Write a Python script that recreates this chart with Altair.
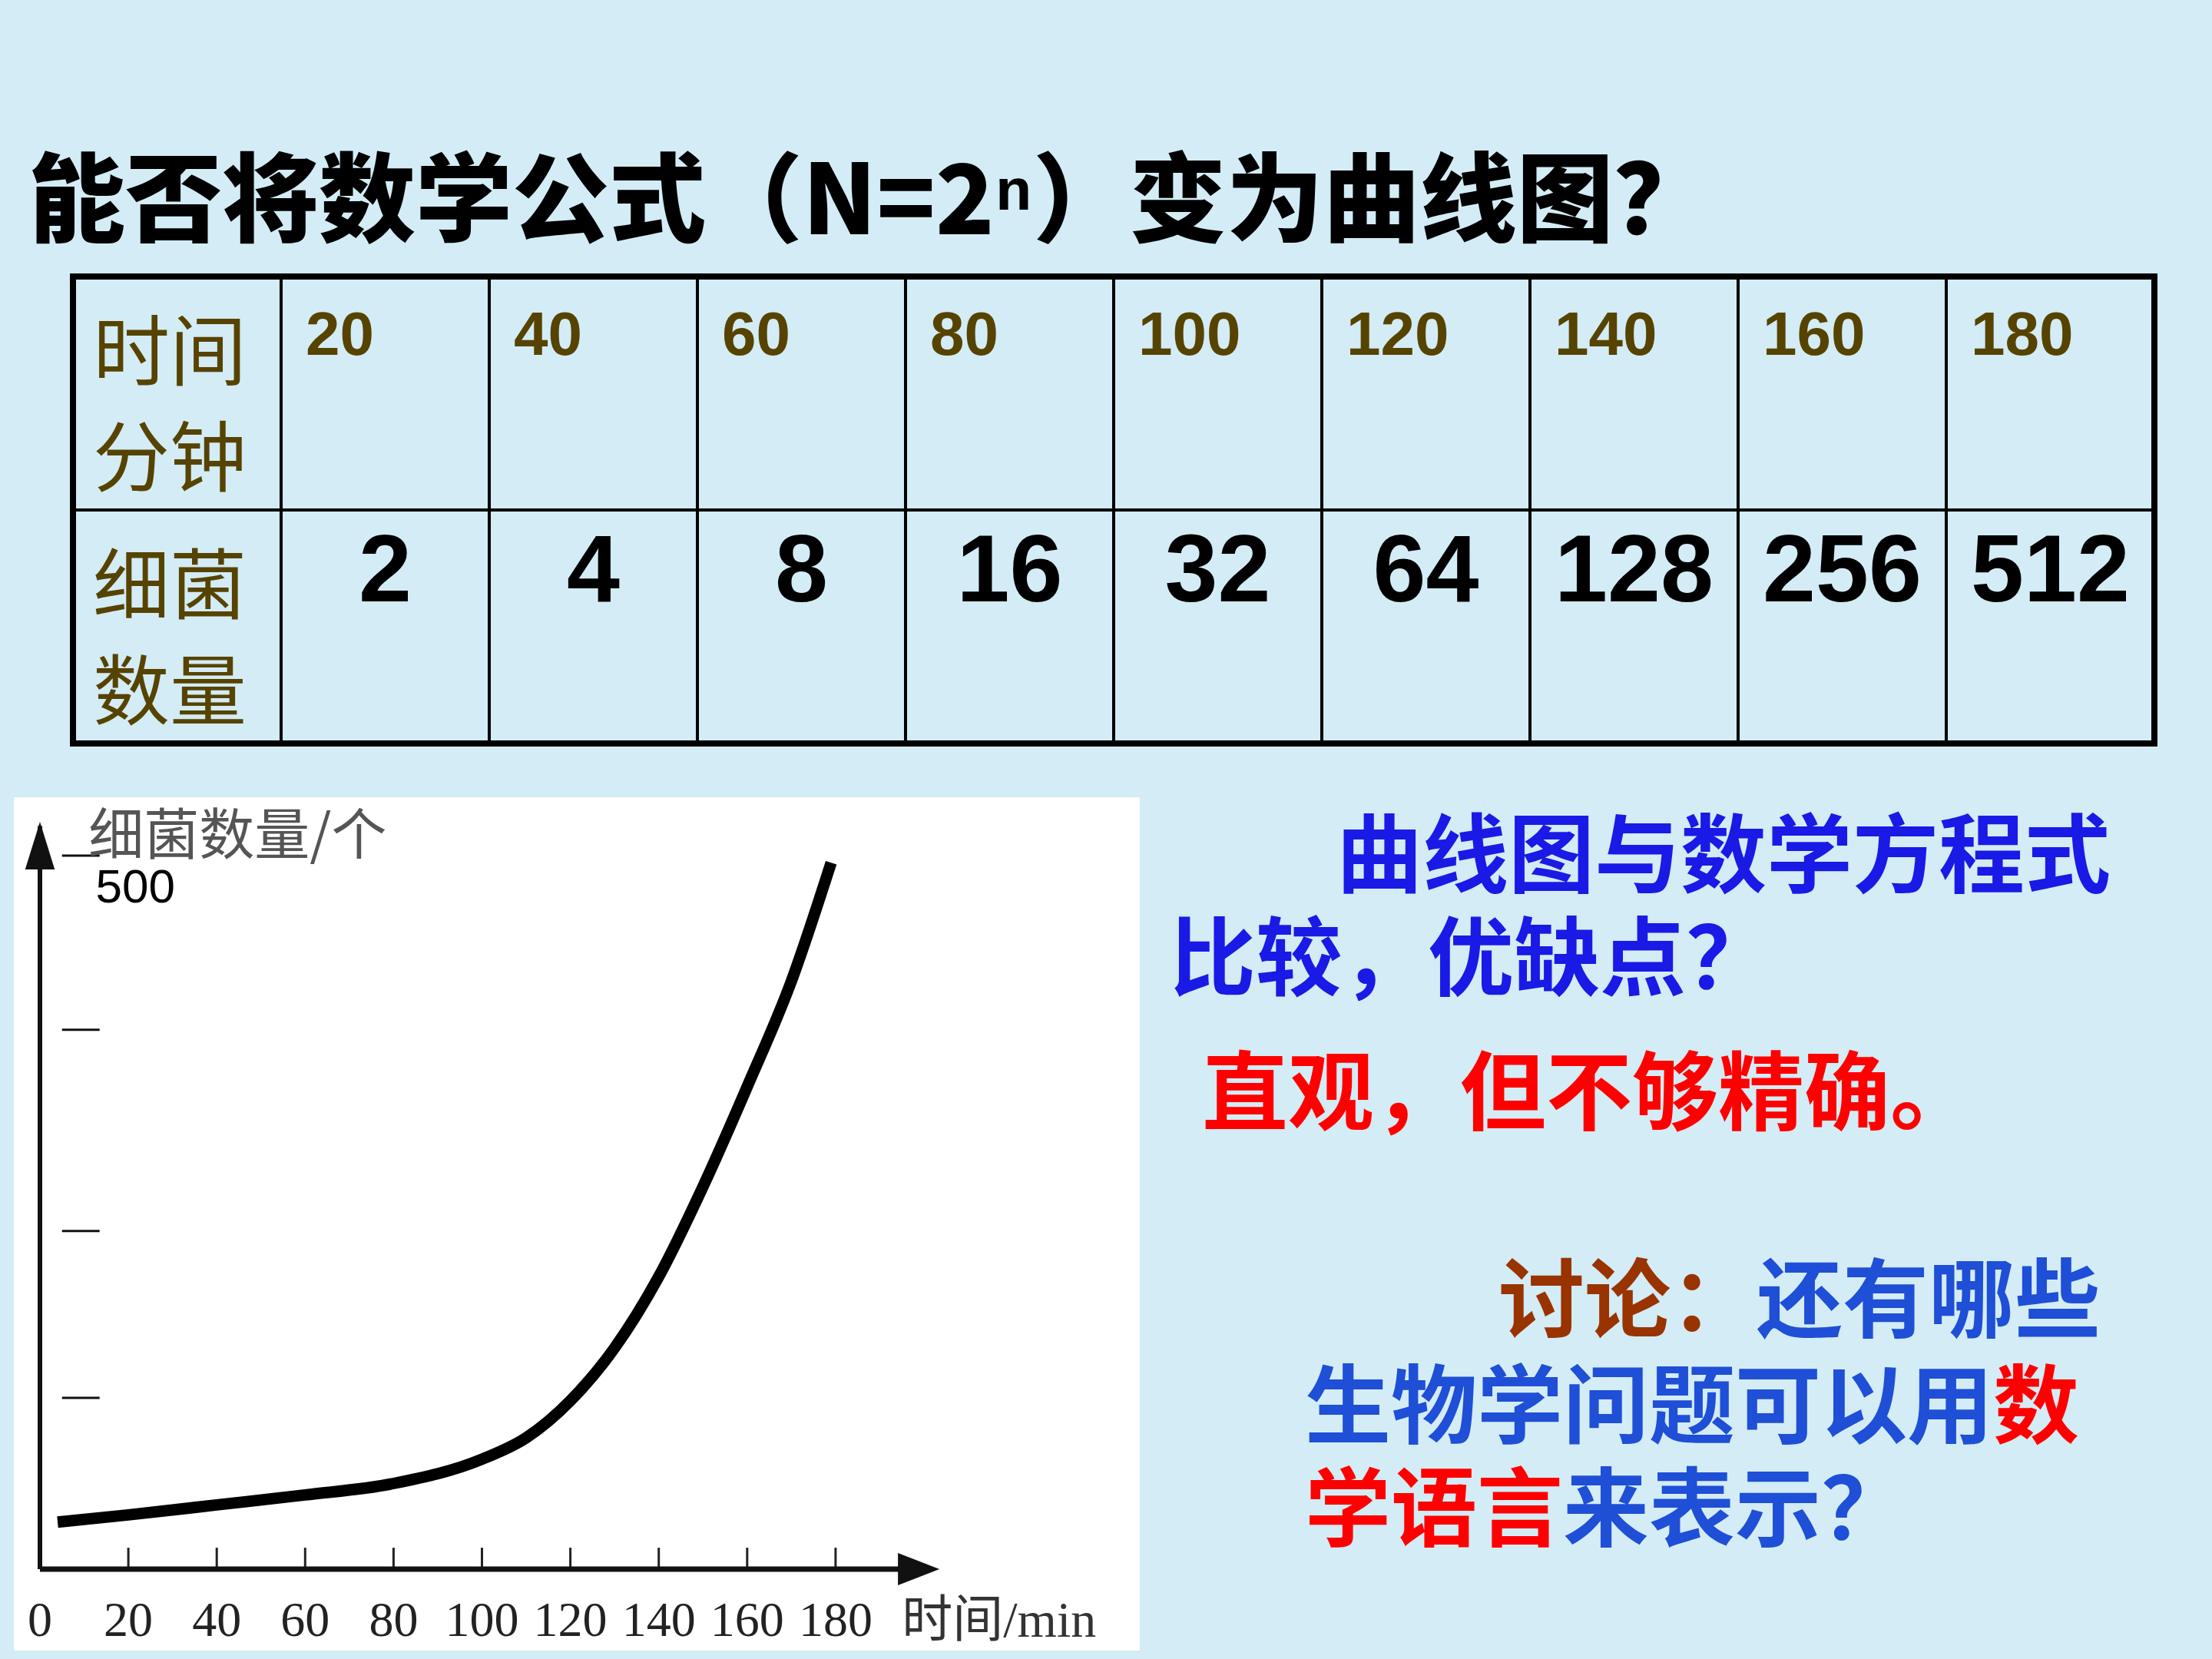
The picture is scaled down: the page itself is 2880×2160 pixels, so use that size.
import altair as alt
import pandas as pd

# ---------------- data ----------------
title_text = "能否将数学公式（N=2ⁿ）变为曲线图？"
row_headers = [["时间", "分钟"], ["细菌", "数量"]]
time_minutes = [20, 40, 60, 80, 100, 120, 140, 160, 180]
bacteria_count = [2, 4, 8, 16, 32, 64, 128, 256, 512]

# curve (time in min, count)
curve_time = [4, 20, 40, 60, 80, 100, 110, 120, 130, 140, 150, 160, 170, 179]
curve_count = [33, 38, 45, 52, 60, 77, 92, 118, 155, 205, 268, 338, 412, 495]

x_tick_values = [0, 20, 40, 60, 80, 100, 120, 140, 160, 180]
y_dash_values = [120, 237, 378, 500]
y_label_value = 500
x_title = "时间/min"
y_title = "细菌数量/个"

text_lines = [
    [("曲线图与数学方程式", "blue1")],
    [("比较，优缺点？", "blue1")],
    [("直观，但不够精确。", "red")],
    [("讨论：", "brown"), ("还有哪些", "blue2")],
    [("生物学问题可以用", "blue2"), ("数", "red")],
    [("学语言", "red"), ("来表示？", "blue2")],
]

# ---------------- styles / layout ----------------
CJK = "Noto Sans CJK SC, Liberation Sans, DejaVu Sans, sans-serif"
SANS = "Liberation Sans, Arial, sans-serif"
NARROW = "Liberation Sans Narrow, Arial Narrow, Liberation Sans, sans-serif"
SERIF = "Liberation Serif, Noto Sans CJK SC, serif"
BG = "#D3ECF6"
OLIVE = "#574300"
COLORS = {"blue1": "#1A1AE6", "blue2": "#1F4FD6", "red": "#FF0000", "brown": "#993300"}

one = pd.DataFrame({"k": [0]})

# ---------- top panel: title + table ----------
TW, TH = 2862, 968
T_LEFT, COL_W = 77, 271
T_TOP, ROW_H = 360, 304
tx = alt.Scale(domain=[-T_LEFT / COL_W, (TW - T_LEFT) / COL_W], nice=False, zero=False)
ty = alt.Scale(domain=[-T_TOP / ROW_H, (TH - T_TOP) / ROW_H], nice=False, zero=False, reverse=True)

ncols = len(time_minutes) + 1
cells = pd.DataFrame(
    [{"c": c, "c2": c + 1, "r": r, "r2": r + 1} for c in range(ncols) for r in range(2)]
)
cell_rects = alt.Chart(cells).mark_rect(fillOpacity=0, stroke="black", strokeWidth=4).encode(
    x=alt.X("c:Q", scale=tx, axis=None), x2="c2:Q",
    y=alt.Y("r:Q", scale=ty, axis=None), y2="r2:Q",
)
outer = alt.Chart(one).mark_rect(fillOpacity=0, stroke="black", strokeWidth=8).encode(
    x=alt.XDatum(0, scale=tx, axis=None), x2=alt.X2Datum(ncols),
    y=alt.YDatum(0, scale=ty, axis=None), y2=alt.Y2Datum(2),
)

hdr = pd.DataFrame({"c": list(range(1, ncols)), "lab": [str(v) for v in time_minutes]})
hdr_text = alt.Chart(hdr).mark_text(
    align="left", baseline="middle", dx=32, dy=-74, fontSize=80, font=NARROW,
    fontWeight="bold", color=OLIVE,
).encode(x=alt.X("c:Q", scale=tx, axis=None), y=alt.YDatum(0.5, scale=ty, axis=None), text="lab:N")

cnt = pd.DataFrame({"cm": [c + 0.5 for c in range(1, ncols)], "lab": [str(v) for v in bacteria_count]})
cnt_text = alt.Chart(cnt).mark_text(
    align="center", baseline="middle", dy=-70, fontSize=124, font=SANS,
    fontWeight="bold", color="black",
).encode(x=alt.X("cm:Q", scale=tx, axis=None), y=alt.YDatum(1.5, scale=ty, axis=None), text="lab:N")

rh = pd.DataFrame({
    "rm": [0.5, 1.5],
    "l1": [h[0] for h in row_headers],
    "l2": [h[1] for h in row_headers],
})
rh1 = alt.Chart(rh).mark_text(
    align="left", baseline="middle", dx=26, dy=-48, fontSize=100, font=CJK, color=OLIVE,
).encode(x=alt.XDatum(0, scale=tx, axis=None), y=alt.Y("rm:Q", scale=ty, axis=None), text="l1:N")
rh2 = alt.Chart(rh).mark_text(
    align="left", baseline="middle", dx=26, dy=90, fontSize=100, font=CJK, color=OLIVE,
).encode(x=alt.XDatum(0, scale=tx, axis=None), y=alt.Y("rm:Q", scale=ty, axis=None), text="l2:N")

title = alt.Chart(pd.DataFrame({"s": [title_text]})).mark_text(
    x=19, y=267, align="left", baseline="middle", fontSize=126, font=CJK,
    fontWeight=900, color="black",
).encode(text="s:N")

table_chart = alt.layer(title, cell_rects, outer, hdr_text, cnt_text, rh1, rh2).properties(
    width=TW, height=TH
)

# ---------- curve panel ----------
W_C, H_C = 1466, 1111
X0_PX, PX_PER_MIN = 34, 5.755
Y0_PX, PX_PER_UNIT = 1005, 1.858
xs = alt.Scale(domain=[-X0_PX / PX_PER_MIN, (W_C - X0_PX) / PX_PER_MIN], nice=False, zero=False)
ys = alt.Scale(domain=[-(H_C - Y0_PX) / PX_PER_UNIT, Y0_PX / PX_PER_UNIT], nice=False, zero=False)

X_END, Y_END = 203.5, 523.7

curve_df = pd.DataFrame({"t": curve_time, "n": curve_count})
curve = alt.Chart(curve_df).mark_line(
    color="black", strokeWidth=15, interpolate="monotone", strokeCap="butt"
).encode(x=alt.X("t:Q", scale=xs, axis=None), y=alt.Y("n:Q", scale=ys, axis=None))

x_axis = alt.Chart(one).mark_rule(color="#111", strokeWidth=7).encode(
    x=alt.XDatum(0, scale=xs, axis=None), x2=alt.X2Datum(X_END - 3),
    y=alt.YDatum(0, scale=ys, axis=None),
)
y_axis = alt.Chart(one).mark_rule(color="#111", strokeWidth=6).encode(
    x=alt.XDatum(0, scale=xs, axis=None),
    y=alt.YDatum(0, scale=ys, axis=None), y2=alt.Y2Datum(Y_END - 3),
)
x_arrow = alt.Chart(one).mark_point(
    shape="M0,0 L-2,-0.78 L-2,0.78 Z", size=2916, filled=True, opacity=1, color="#111", strokeWidth=0
).encode(x=alt.XDatum(X_END, scale=xs, axis=None), y=alt.YDatum(0, scale=ys, axis=None))
y_arrow = alt.Chart(one).mark_point(
    shape="M0,0 L-0.62,2 L0.62,2 Z", size=3844, filled=True, opacity=1, color="#111", strokeWidth=0
).encode(x=alt.XDatum(0, scale=xs, axis=None), y=alt.YDatum(Y_END, scale=ys, axis=None))

ticks_df = pd.DataFrame({"t": x_tick_values[1:]})
x_ticks = alt.Chart(ticks_df).mark_rule(color="#222", strokeWidth=3).encode(
    x=alt.X("t:Q", scale=xs, axis=None),
    y=alt.YDatum(0, scale=ys, axis=None), y2=alt.Y2Datum(15),
)
lab_df = pd.DataFrame({"t": x_tick_values, "lab": [str(v) for v in x_tick_values]})
x_labels = alt.Chart(lab_df).mark_text(
    align="center", baseline="middle", dy=68, fontSize=64, font=SERIF, color="#222"
).encode(x=alt.X("t:Q", scale=xs, axis=None), y=alt.YDatum(0, scale=ys, axis=None), text="lab:N")

x_title_mark = alt.Chart(pd.DataFrame({"s": [x_title]})).mark_text(
    align="left", baseline="middle", dy=68, fontSize=66, font=SERIF, color="#333"
).encode(x=alt.XDatum(195, scale=xs, axis=None), y=alt.YDatum(0, scale=ys, axis=None), text="s:N")

dash_df = pd.DataFrame({"v": y_dash_values})
y_dashes = alt.Chart(dash_df).mark_rule(color="#111", strokeWidth=3).encode(
    x=alt.XDatum(5, scale=xs, axis=None), x2=alt.X2Datum(13.5),
    y=alt.Y("v:Q", scale=ys, axis=None),
)
ylab_df = pd.DataFrame({"v": [y_label_value], "lab": [str(y_label_value)]})
y_label = alt.Chart(ylab_df).mark_text(
    align="left", baseline="middle", dy=42, fontSize=62, font=SANS, color="black"
).encode(x=alt.XDatum(12.6, scale=xs, axis=None), y=alt.Y("v:Q", scale=ys, axis=None), text="lab:N")

y_title_mark = alt.Chart(pd.DataFrame({"s": [y_title]})).mark_text(
    align="left", baseline="middle", dy=-24, fontSize=72, font=CJK, color="#555"
).encode(x=alt.XDatum(11, scale=xs, axis=None), y=alt.YDatum(500, scale=ys, axis=None), text="s:N")

curve_chart = alt.layer(
    x_ticks, x_axis, y_axis, x_arrow, y_arrow, y_dashes, curve, x_labels, x_title_mark, y_label, y_title_mark
).properties(width=W_C, height=H_C, view=alt.ViewBackground(fill="white", strokeWidth=0))

# ---------- text panel ----------
W_T = 2862 - W_C
FS_R = 112
line_origins = [(256, 82), (39, 216), (81, 391), (467, 661), (215, 799), (215, 933)]
text_layers = []
for (x0, y0), segs in zip(line_origins, text_lines):
    off = 0
    for s, ck in segs:
        text_layers.append(
            alt.Chart(pd.DataFrame({"s": [s]})).mark_text(
                x=x0 + off * FS_R, y=y0, align="left", baseline="middle", fontSize=FS_R,
                font=CJK, fontWeight="bold", color=COLORS[ck],
            ).encode(text="s:N")
        )
        off += len(s)
text_chart = alt.layer(*text_layers).properties(width=W_T, height=H_C)

bottom = alt.hconcat(curve_chart, text_chart, spacing=0, bounds="flush")
chart = alt.vconcat(table_chart, bottom, spacing=70, bounds="flush").properties(
    padding={"left": 18, "top": 0, "right": 0, "bottom": 11},
    background=BG,
).configure_view(strokeWidth=0)

chart.save("out.html", embed_options={"renderer": "svg", "actions": False})
